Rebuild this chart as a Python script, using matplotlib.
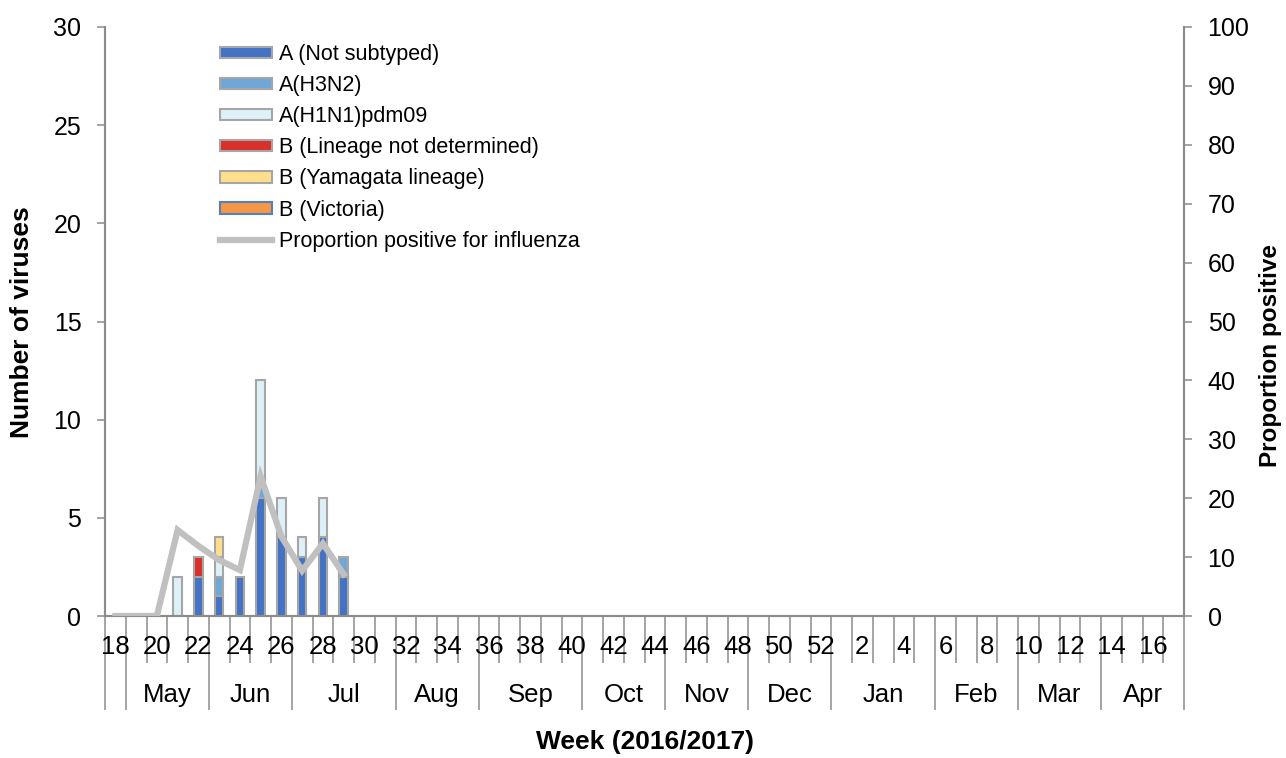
import numpy as np
import matplotlib
matplotlib.use("Agg")
import matplotlib.pyplot as plt
from matplotlib.patches import Patch
from matplotlib.lines import Line2D
import matplotlib.transforms as mtransforms

plt.rcParams['font.family'] = ['Liberation Sans', 'DejaVu Sans']

# weeks of the 2016/2017 season
weeks = list(range(18, 53)) + list(range(1, 18))
week_labels = [str(w) if w % 2 == 0 else '' for w in weeks]

months = ['', 'May', 'Jun', 'Jul', 'Aug', 'Sep', 'Oct', 'Nov', 'Dec', 'Jan', 'Feb', 'Mar', 'Apr']
month_weeks = [1, 4, 4, 5, 4, 5, 4, 4, 4, 5, 4, 4, 4]

# values for weeks 18..29, rest of the season empty
a_not_subtyped = [0, 0, 0, 0, 2, 1, 2, 6, 4, 3, 4, 2]
a_h3n2 = [0, 0, 0, 0, 0, 1, 0, 1, 0, 0, 0, 1]
a_h1n1 = [0, 0, 0, 2, 0, 1, 0, 5, 2, 1, 2, 0]
b_not_det = [0, 0, 0, 0, 1, 0, 0, 0, 0, 0, 0, 0]
b_yamagata = [0, 0, 0, 0, 0, 1, 0, 0, 0, 0, 0, 0]
b_victoria = [0, 0, 0, 0, 0, 0, 0, 0, 0, 0, 0, 0]
prop_positive = [0, 0, 0, 14.6, 11.9, 9.5, 7.8, 23.7, 13.5, 7.7, 12.3, 7.1]

series = [
    ("A (Not subtyped)", a_not_subtyped, '#4472c4', '#a6a6a6'),
    ("A(H3N2)", a_h3n2, '#6fa8d6', '#a6a6a6'),
    ("A(H1N1)pdm09", a_h1n1, '#def1f8', '#a6a6a6'),
    ("B (Lineage not determined)", b_not_det, '#d9302a', '#a6a6a6'),
    ("B (Yamagata lineage)", b_yamagata, '#ffdf8c', '#a6a6a6'),
    ("B (Victoria)", b_victoria, '#f79646', '#4f81bd'),
]

n = len(weeks)
x = np.arange(n)

W, H = 1286, 758
fig = plt.figure(figsize=(W / 100, H / 100), dpi=100)
ax = fig.add_axes([105 / W, (H - 616) / H, (1184 - 105) / W, (616 - 27) / H])
ax2 = ax.twinx()

grey = '#8c8c8c'

bottom = np.zeros(n)
handles = []
for name, vals, fc, ec in series:
    v = np.zeros(n)
    v[:len(vals)] = vals
    mask = v > 0
    ax.bar(x[mask], v[mask], 0.4, bottom=bottom[mask], color=fc, edgecolor=ec,
           linewidth=1.5, zorder=2)
    bottom += v
    handles.append(Patch(facecolor=fc, edgecolor=ec, linewidth=1.5, label=name))

prop = np.full(n, np.nan)
prop[:len(prop_positive)] = prop_positive
ax2.plot(x, prop, color='#c0c0c0', linewidth=4.5, solid_joinstyle='miter', zorder=3)
handles.append(Line2D([], [], color='#c0c0c0', linewidth=4.5,
                      label='Proportion positive for influenza'))

ax.set_xlim(-0.5, n - 0.5)
ax.set_ylim(0, 30)
ax.set_yticks(range(0, 31, 5))
ax2.set_ylim(0, 100)
ax2.set_yticks(range(0, 101, 10))

for a in (ax, ax2):
    a.spines['top'].set_visible(False)
    for s in ('left', 'right', 'bottom'):
        a.spines[s].set_color(grey)
        a.spines[s].set_linewidth(1.5)
    a.tick_params(axis='y', length=6, width=1.1, color=grey, labelsize=18, pad=11)

# category axis: short lines between weeks, long lines between months
bounds = np.arange(n + 1) - 0.5
month_bounds = np.concatenate([[0], np.cumsum(month_weeks)]) - 0.5
ax.set_xticks(month_bounds)
ax.set_xticklabels([])
ax.set_xticks(bounds, minor=True)
ax.tick_params(axis='x', which='major', length=68, width=1.1, color=grey, direction='out')
ax.tick_params(axis='x', which='minor', length=34, width=1.1, color=grey, direction='out')

trans = mtransforms.blended_transform_factory(ax.transData, ax.transAxes)
px = 1 / (616 - 27)
for xi, lab in zip(x, week_labels):
    if lab:
        ax.text(xi, -31 * px, lab, transform=trans, ha='center', va='center', fontsize=18.5)
centers = (month_bounds[:-1] + month_bounds[1:]) / 2
for cx, lab in zip(centers, months):
    ax.text(cx, -79 * px, lab, transform=trans, ha='center', va='center', fontsize=18.5)

fig.text(22 / W, (H - 322) / H, 'Number of viruses', rotation=90, ha='center', va='center',
         fontsize=19, fontweight='bold')
fig.text(1270 / W, (H - 356) / H, 'Proportion positive', rotation=90, ha='center', va='center',
         fontsize=17.5, fontweight='bold')
fig.text(645 / W, (H - 742) / H, 'Week (2016/2017)', ha='center', va='center',
         fontsize=19, fontweight='bold')

fig.legend(handles=handles, loc='upper left', bbox_to_anchor=(220 / W, (H - 44) / H),
           frameon=False, fontsize=15.5, handlelength=2.4, handleheight=0.45,
           handletextpad=0.35, labelspacing=0.47, borderpad=0, borderaxespad=0)

fig.savefig('out.png', dpi=100)
